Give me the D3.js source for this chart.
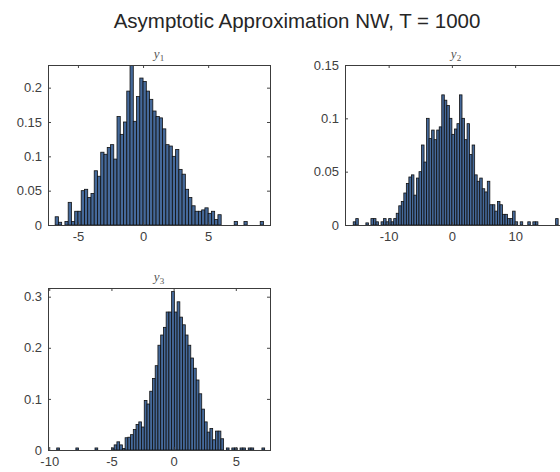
<!DOCTYPE html>
<html>
    <head>
        <meta charset="utf-8">
        <script src="https://cdn.jsdelivr.net/npm/d3@7"></script>
        <style type="text/css">
            html, body {
                margin: 0;
                padding: 0;
                background: #fff;
            }
            svg {
                display: block;
                font-family: "Liberation Sans", Arial, sans-serif;
            }
            .tick text {
                font-size: 13px;
                fill: #404040;
            }
            .tick line {
                stroke: #444;
            }
        </style>
    </head>
    <body>
        <svg id="chart" width="560" height="472"></svg>
        <script>
            // histogram bins (pdf normalisation)
            var y1Start = -6.75, y1Width = 0.25;
            var y1Values = [0.012, 0.004, 0, 0.005, 0.033, 0.005, 0.02, 0.02, 0.05, 0.052,
                0.04, 0.046, 0.079, 0.071, 0.106, 0.103, 0.113, 0.117, 0.096, 0.158,
                0.132, 0.15, 0.195, 0.235, 0.151, 0.187, 0.214, 0.209, 0.195, 0.183,
                0.166, 0.158, 0.156, 0.14, 0.117, 0.115, 0.1, 0.11, 0.081, 0.074,
                0.052, 0.04, 0.028, 0.02, 0.02, 0.022, 0.025, 0.017, 0.02, 0.008,
                0.015, 0, 0, 0, 0, 0.005, 0, 0, 0.005, 0,
                0, 0, 0, 0.005];

            var y2Start = -15.6, y2Width = 0.4;
            var y2Values = [0.003, 0.006, 0, 0, 0, 0.002, 0, 0.006, 0.006, 0.003,
                0, 0.003, 0.006, 0.003, 0.006, 0.003, 0.006, 0.011, 0.018, 0.022,
                0.03, 0.039, 0.045, 0.047, 0.028, 0.044, 0.05, 0.075, 0.059, 0.1,
                0.081, 0.089, 0.08, 0.089, 0.092, 0.122, 0.117, 0.112, 0.1, 0.085,
                0.09, 0.095, 0.122, 0.1, 0.08, 0.095, 0.066, 0.075, 0.047, 0.041,
                0.044, 0.034, 0.031, 0.041, 0.019, 0.019, 0.013, 0.022, 0.019, 0.01,
                0.01, 0.006, 0.006, 0.013, 0.003, 0, 0.003, 0, 0, 0.003,
                0, 0.003, 0.003, 0, 0, 0, 0, 0, 0, 0,
                0.006];

            var y3Start = -9.4, y3Width = 0.22;
            var y3Values = [0.004, 0, 0, 0, 0, 0, 0, 0.004, 0, 0,
                0, 0, 0, 0, 0.004, 0, 0, 0, 0, 0,
                0.004, 0.01, 0.016, 0.01, 0.003, 0.024, 0.025, 0.03, 0.04, 0.05,
                0.055, 0.045, 0.097, 0.09, 0.115, 0.14, 0.165, 0.205, 0.225, 0.24,
                0.27, 0.27, 0.31, 0.27, 0.29, 0.26, 0.245, 0.225, 0.205, 0.18,
                0.16, 0.137, 0.11, 0.08, 0.055, 0.035, 0.042, 0.02, 0.037, 0.037,
                0.022, 0, 0.004, 0, 0.004, 0.004, 0, 0.004, 0.004, 0,
                0.004, 0.004, 0, 0, 0, 0.004];

            // axis limits and ticks
            var y1XDomain = [-7.3, 9.75], y1YDomain = [0, 0.233];
            var y2XDomain = [-16.9, 18.2], y2YDomain = [0, 0.15];
            var y3XDomain = [-10.1, 7.75], y3YDomain = [0, 0.317];
            var y1XTicks = [-5, 0, 5], y1YTicks = [0, 0.05, 0.1, 0.15, 0.2];
            var y2XTicks = [-10, 0, 10], y2YTicks = [0, 0.05, 0.1, 0.15];
            var y3XTicks = [-10, -5, 0, 5], y3YTicks = [0, 0.1, 0.2, 0.3];

            var mainTitle = "Asymptotic Approximation NW, T = 1000";

            var svg = d3.select("#chart");

            svg.append("text")
                .attr("x", 297)
                .attr("y", 28)
                .attr("text-anchor", "middle")
                .style("font-size", "20.5px")
                .style("fill", "#262626")
                .text(mainTitle);

            // plain hyphen minus, like matlab
            function fmt(d) { return String(+d.toFixed(3)); }

            function drawPanel(id, box, start, width, values, xDomain, yDomain, xTicks, yTicks, sub) {
                var x = d3.scaleLinear().domain(xDomain).range([box.left, box.right]);
                var y = d3.scaleLinear().domain(yDomain).range([box.bottom, box.top]);

                var bins = values.map(function (v, i) {
                    return { x0: start + i * width, x1: start + (i + 1) * width, v: v };
                });

                svg.append("clipPath").attr("id", "clip" + id)
                  .append("rect")
                    .attr("x", box.left)
                    .attr("y", box.top)
                    .attr("width", box.right - box.left)
                    .attr("height", box.bottom - box.top);

                var g = svg.append("g");

                g.append("g")
                    .attr("clip-path", "url(#clip" + id + ")")
                    .selectAll("rect")
                    .data(bins.filter(function (d) { return d.v > 0; }))
                  .enter().append("rect")
                    .attr("x", function (d) { return x(d.x0); })
                    .attr("y", function (d) { return y(d.v); })
                    .attr("width", function (d) { return x(d.x1) - x(d.x0); })
                    .attr("height", function (d) { return y(0) - y(d.v); })
                    .style("fill", "#45699a")
                    .style("stroke", "#111")
                    .style("stroke-width", 0.8);

                // ticks point inwards, mirrored on top and right like matlab's box
                var bottom = g.append("g")
                    .attr("transform", "translate(0," + box.bottom + ")")
                    .call(d3.axisBottom(x).tickValues(xTicks).tickSize(-3).tickPadding(7).tickFormat(fmt));
                var left = g.append("g")
                    .attr("transform", "translate(" + box.left + ",0)")
                    .call(d3.axisLeft(y).tickValues(yTicks).tickSize(-3).tickPadding(6).tickFormat(fmt));
                var top = g.append("g")
                    .attr("transform", "translate(0," + box.top + ")")
                    .call(d3.axisTop(x).tickValues(xTicks).tickSize(-3).tickFormat(""));
                var right = g.append("g")
                    .attr("transform", "translate(" + box.right + ",0)")
                    .call(d3.axisRight(y).tickValues(yTicks).tickSize(-3).tickFormat(""));
                [bottom, left, top, right].forEach(function (a) {
                    a.select(".domain").remove();
                });
                bottom.selectAll("text").attr("dy", "0.71em");

                g.append("rect")
                    .attr("x", box.left)
                    .attr("y", box.top)
                    .attr("width", box.right - box.left)
                    .attr("height", box.bottom - box.top)
                    .style("fill", "none")
                    .style("stroke", "#3c3c3c")
                    .style("stroke-width", 1)
                    .attr("shape-rendering", "crispEdges");

                var t = g.append("text")
                    .attr("x", (box.left + box.right) / 2)
                    .attr("y", box.top - 7)
                    .attr("text-anchor", "middle")
                    .style("font-family", "'Liberation Serif', 'DejaVu Serif', serif")
                    .style("font-size", "13px")
                    .style("fill", "#555");
                t.append("tspan").style("font-style", "italic").text("y");
                t.append("tspan").attr("dy", 3).style("font-size", "9px").text(sub);
            }

            drawPanel(1, { left: 48, right: 270, top: 65, bottom: 225 },
                y1Start, y1Width, y1Values, y1XDomain, y1YDomain, y1XTicks, y1YTicks, "1");
            drawPanel(2, { left: 345, right: 567, top: 65, bottom: 225 },
                y2Start, y2Width, y2Values, y2XDomain, y2YDomain, y2XTicks, y2YTicks, "2");
            drawPanel(3, { left: 48, right: 270, top: 288, bottom: 450 },
                y3Start, y3Width, y3Values, y3XDomain, y3YDomain, y3XTicks, y3YTicks, "3");
        </script>
    </body>
</html>
